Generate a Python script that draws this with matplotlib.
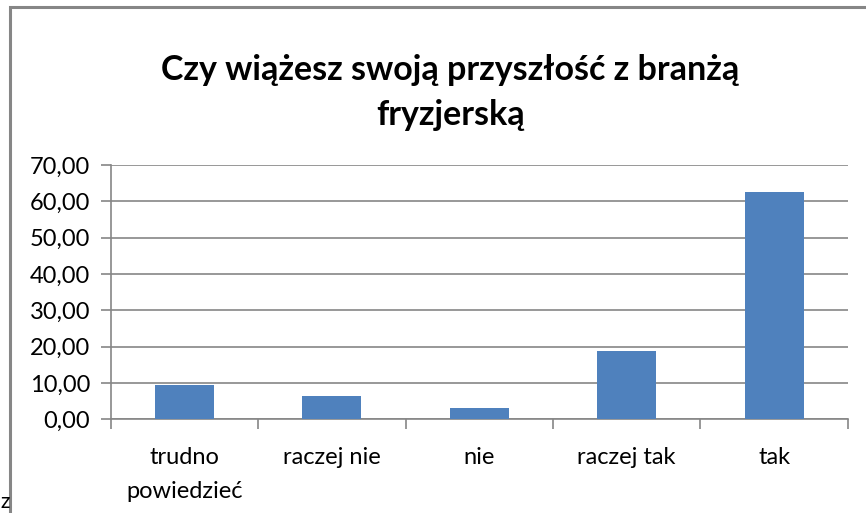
import matplotlib
matplotlib.use("Agg")
import matplotlib.pyplot as plt
from matplotlib.patches import Rectangle
from matplotlib.ticker import FixedLocator

plt.rcParams["font.family"] = ["Lato", "DejaVu Sans"]

categories = ["trudno\npowiedzieć", "raczej nie", "nie", "raczej tak", "tak"]
values = [9.38, 6.25, 3.13, 18.75, 62.50]
yticks = [0, 10, 20, 30, 40, 50, 60, 70]
title = "Czy wiążesz swoją przyszłość z branżą\nfryzjerską"

fig = plt.figure(figsize=(8.66, 5.13), dpi=100)
ax = fig.add_axes([0.128, 0.183, 0.851, 0.495])

x = range(len(categories))
ax.bar(x, values, width=0.4, color="#4f81bd", zorder=3)

ax.set_xlim(-0.5, len(categories) - 0.5)
ax.set_ylim(0, 70)
ax.set_yticks(yticks)
ax.set_yticklabels([("%.2f" % v).replace(".", ",") for v in yticks],
                   fontsize=17, color="black")
ax.yaxis.grid(True, color="#868686", linewidth=1.2, zorder=0)

ax.set_xticks(list(x))
ax.set_xticklabels(categories, fontsize=17, linespacing=1.75, va="top")
ax.xaxis.set_minor_locator(FixedLocator([i - 0.5 for i in range(len(categories) + 1)]))
ax.tick_params(axis="x", which="major", length=0, pad=20)
ax.tick_params(axis="x", which="minor", length=7, color="#868686", width=1.2)
ax.tick_params(axis="y", length=7, color="#868686", width=1.2, pad=8)

for s in ["top", "right"]:
    ax.spines[s].set_visible(False)
for s in ["left", "bottom"]:
    ax.spines[s].set_color("#868686")
    ax.spines[s].set_linewidth(1.2)

fig.text(0.52, 0.895, title, ha="center", va="top", fontsize=24.5,
         fontweight="bold", linespacing=1.5)

# chart frame
fig.add_artist(Rectangle((9.5 / 866, -0.1), 1.0, 1 - 7.5 / 513 + 0.1,
                         transform=fig.transFigure, fill=False,
                         edgecolor="#868686", linewidth=2.2))
fig.text(0.0, 0.002, "z", fontsize=15, ha="left", va="bottom")

fig.savefig("out.png", dpi=100)
